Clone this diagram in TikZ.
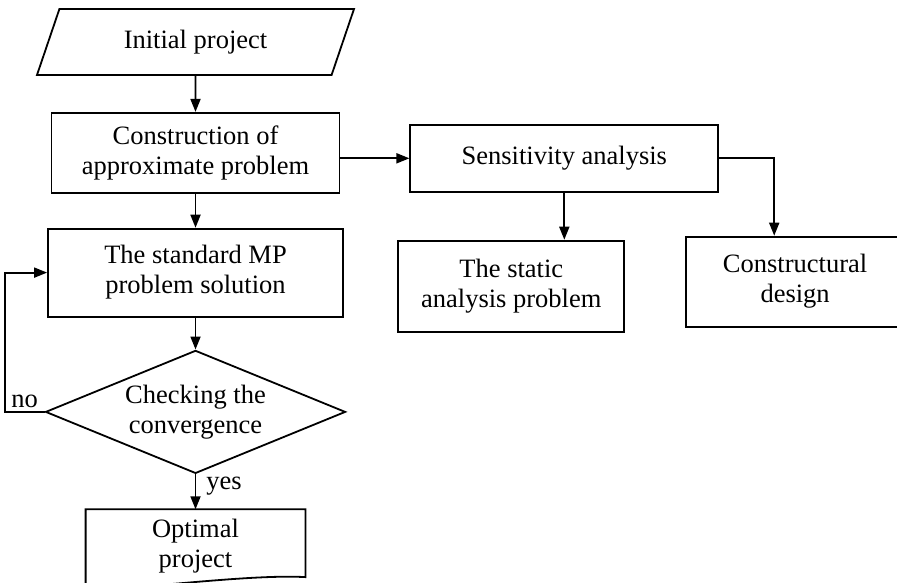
\documentclass[tikz,border=0pt]{standalone}
\usepackage{fontspec}
\setmainfont{Liberation Serif}
\usetikzlibrary{arrows.meta,shapes.geometric,positioning}
\newcommand{\chartfont}{\fontsize{26.5pt}{30pt}\selectfont}

\begin{document}
\begin{tikzpicture}[x=1pt,y=-1pt,line width=1.8pt,>={Triangle[length=13pt,width=10pt]},
  font=\chartfont,
  procbox/.style={draw,rectangle,align=center,inner sep=0pt},
  iobox/.style={draw,trapezium,trapezium left angle=47,trapezium right angle=133,
    trapezium stretches body,minimum width=317pt,minimum height=66pt,inner sep=0pt},
  decision/.style={draw,diamond,aspect=2.44,minimum width=300pt,minimum height=123pt,
    inner sep=0pt,align=center},
  lbl/.style={inner sep=2pt}]
  \useasboundingbox (0,0) rectangle (897,583);
  % left column
  \node[iobox] (init) at (195.5,42) {Initial project};
  \node[procbox,minimum width=288pt,minimum height=80pt,below=36pt of init] (constr) {Construction of\\approximate problem};
  \node[procbox,minimum width=295pt,minimum height=88pt,below=34pt of constr] (stdmp) {The standard MP\\problem solution};
  \node[decision,below=32pt of stdmp] (check) {Checking the\\convergence};
  \node[minimum width=218pt,minimum height=72pt,align=center,inner sep=0pt,below=35pt of check] (opt) {Optimal\\project};
  \draw (opt.north west) -- (opt.north east) -- ([yshift=6pt]opt.south east)
    .. controls +(-55,-3) and +(63,-2) .. ([yshift=-7pt]opt.south west) -- cycle;
  % right part
  \node[procbox,minimum width=308pt,minimum height=67pt,right=69pt of constr,yshift=-5.5pt] (sens) {Sensitivity analysis};
  \node[procbox,minimum width=226pt,minimum height=91pt,below=47pt of sens,xshift=-53pt] (static) {The static\\analysis problem};
  \node[procbox,minimum width=218pt,minimum height=90pt,right=60pt of static,yshift=4.5pt] (constrd) {Constructural\\design};
  % connectors
  \draw[->] (init) -- (constr);
  \draw[->] (constr) -- (stdmp);
  \draw[->] (stdmp) -- (check);
  \draw[->] (check) -- node[lbl,right=8pt,pos=0.35] {yes} (opt);
  \draw[->] (check.west) -- node[lbl,above=1pt] {no} ++(-40,0) |- (stdmp.west);
  \draw[->] (constr.east |- sens.west) -- (sens.west);
  \draw[->] (sens.south) -- (sens.south |- static.north);
  \draw[->] (sens.east) -- ++(55,0) coordinate (brk) -- (brk |- constrd.north);
\end{tikzpicture}
\end{document}
